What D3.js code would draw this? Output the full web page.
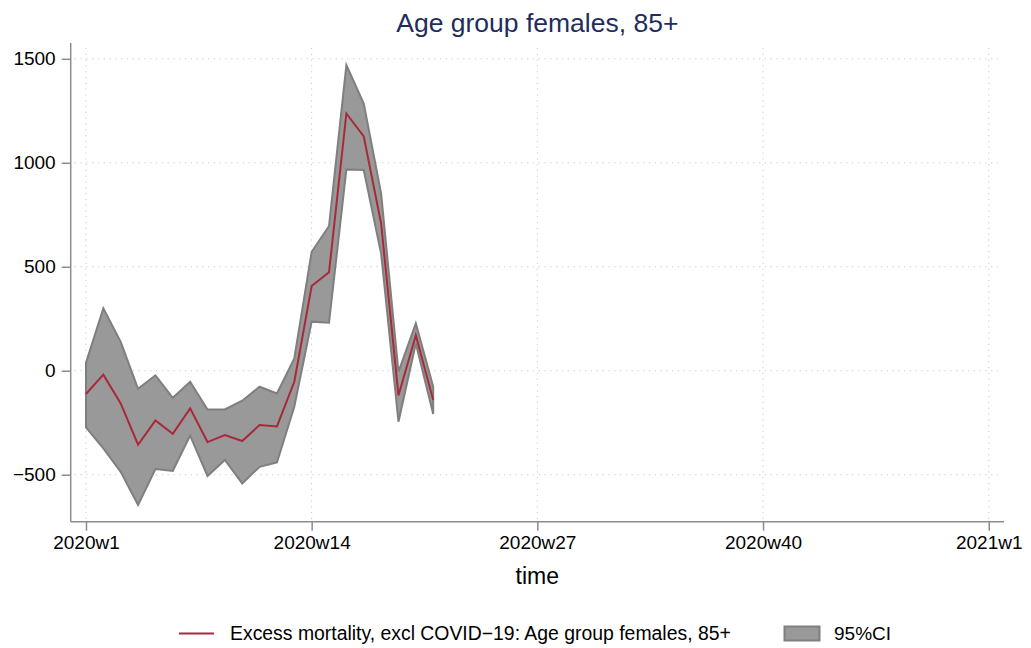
<!DOCTYPE html>
<html>
<head>
<meta charset="utf-8">
<script src="https://cdn.jsdelivr.net/npm/d3@7/dist/d3.min.js"></script>
<style>
  html, body { margin: 0; padding: 0; background: #fff; }
  svg { display: block; }
  text { font-family: "Liberation Sans", Arial, Helvetica, sans-serif; }
</style>
</head>
<body>
<svg id="chart" width="1031" height="648"></svg>
<script>
// week index (1 = 2020w1)
const weeks = [1,2,3,4,5,6,7,8,9,10,11,12,13,14,15,16,17,18,19,20,21];
const excess = [-112,-19,-157,-356,-239,-303,-181,-343,-309,-338,-261,-268,-53,407,474,1237,1127,708,-119,171,-141];
const ciUpper = [38,300,139,-87,-22,-130,-53,-186,-186,-144,-77,-109,59,572,696,1470,1285,853,-5,228,-77];
const ciLower = [-272,-373,-486,-646,-473,-482,-312,-506,-429,-542,-462,-441,-173,236,231,968,965,564,-245,131,-208];
const xTickWeeks = [1,14,27,40,53];
const xTickLabels = ["2020w1","2020w14","2020w27","2020w40","2021w1"];
const yTicks = [-500,0,500,1000,1500];
const titleText = "Age group females, 85+";
const xTitle = "time";
const legendLine = "Excess mortality, excl COVID\u221219: Age group females, 85+";
const legendBand = "95%CI";

const svg = d3.select("#chart");
const pLeft = 70.7, pRight = 1004, pTop = 43, pBottom = 521.7;

const x = d3.scaleLinear().domain([0.12, 53.88]).range([pLeft, pRight]);
const y = d3.scaleLinear().domain([-726, 1576]).range([pBottom, pTop]);

const gridColor = "#c8c8c8";
// horizontal grid
svg.append("g").selectAll("line").data(yTicks).join("line")
  .attr("x1", pLeft + 4).attr("x2", pRight - 2)
  .attr("y1", d => y(d)).attr("y2", d => y(d))
  .attr("stroke", gridColor).attr("stroke-width", 1)
  .attr("stroke-dasharray", "1.2,4.6");
// vertical grid
svg.append("g").selectAll("line").data(xTickWeeks).join("line")
  .attr("x1", d => x(d)).attr("x2", d => x(d))
  .attr("y1", pTop + 5).attr("y2", pBottom - 2)
  .attr("stroke", gridColor).attr("stroke-width", 1)
  .attr("stroke-dasharray", "1.2,4.6");

const data = weeks.map((w, i) => ({w, v: excess[i], lo: ciLower[i], hi: ciUpper[i]}));

// CI band
const area = d3.area().x(d => x(d.w)).y0(d => y(d.lo)).y1(d => y(d.hi));
svg.append("path").datum(data).attr("d", area)
  .attr("fill", "#999999").attr("stroke", "#7f7f7f")
  .attr("stroke-width", 2).attr("stroke-linejoin", "miter");

// line
const line = d3.line().x(d => x(d.w)).y(d => y(d.v));
svg.append("path").datum(data).attr("d", line)
  .attr("fill", "none").attr("stroke", "#a8293a").attr("stroke-width", 2);

// axes
const axisColor = "#8c8c8c";
const yAxis = svg.append("g").attr("transform", `translate(${pLeft},0)`)
  .call(d3.axisLeft(y).tickValues(yTicks).tickSize(9).tickPadding(6)
    .tickFormat(d => d < 0 ? "\u2212" + Math.abs(d) : String(d)));
yAxis.select(".domain").attr("d", `M0,${pTop}V${pBottom}`);
const xAxis = svg.append("g").attr("transform", `translate(0,${pBottom})`)
  .call(d3.axisBottom(x).tickValues(xTickWeeks).tickSize(9).tickPadding(5)
    .tickFormat((d, i) => xTickLabels[i]));
xAxis.select(".domain").attr("d", `M${pLeft},0H${pRight}`);
[yAxis, xAxis].forEach(g => {
  g.select(".domain").attr("stroke", axisColor).attr("stroke-width", 1.5);
  g.selectAll(".tick line").attr("stroke", axisColor).attr("stroke-width", 1.5);
  g.selectAll(".tick text").attr("fill", "#000").style("font-size", "19px")
    .style("font-family", "'Liberation Sans', Arial, sans-serif");
});

// title
svg.append("text").attr("x", (pLeft + pRight) / 2).attr("y", 32)
  .attr("text-anchor", "middle").attr("fill", "#1f2d5c")
  .style("font-size", "26.5px").text(titleText);

// x title
svg.append("text").attr("x", (pLeft + pRight) / 2).attr("y", 584)
  .attr("text-anchor", "middle").attr("fill", "#000")
  .style("font-size", "23px").text(xTitle);

// legend
const ly = 633.5;
svg.append("line").attr("x1", 179).attr("x2", 214).attr("y1", ly).attr("y2", ly)
  .attr("stroke", "#a8293a").attr("stroke-width", 2);
svg.append("text").attr("x", 230).attr("y", ly + 6.8).attr("fill", "#000")
  .style("font-size", "19.4px").text(legendLine);
svg.append("rect").attr("x", 784.5).attr("y", 626.5).attr("width", 35).attr("height", 14)
  .attr("fill", "#999999").attr("stroke", "#7f7f7f").attr("stroke-width", 2);
svg.append("text").attr("x", 834).attr("y", ly + 6.8).attr("fill", "#000")
  .style("font-size", "19px").text(legendBand);
</script>
</body>
</html>
